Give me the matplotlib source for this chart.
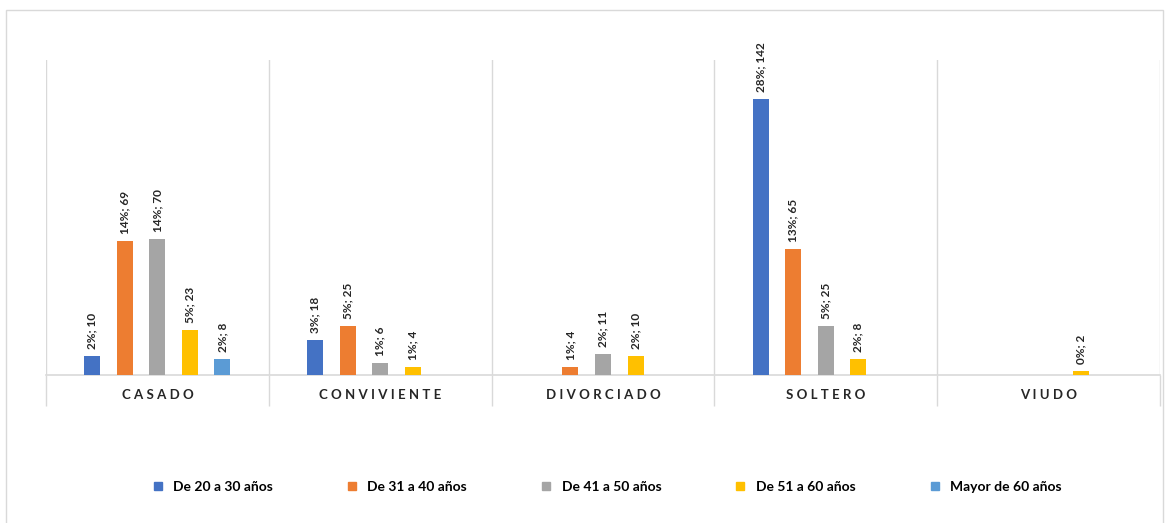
import numpy as np
import matplotlib
matplotlib.use('Agg')
import matplotlib.pyplot as plt
from matplotlib.lines import Line2D

plt.rcParams['font.family'] = ['Lato', 'DejaVu Sans']

categories = ['CASADO', 'CONVIVIENTE', 'DIVORCIADO', 'SOLTERO', 'VIUDO']
series = ['De 20 a 30 años', 'De 31 a 40 años', 'De 41 a 50 años',
          'De 51 a 60 años', 'Mayor de 60 años']
colors = ['#4472C4', '#ED7D31', '#A5A5A5', '#FFC000', '#5B9BD5']

# counts per series, one value per category
counts = [
    [10, 18, 0, 142, 0],
    [69, 25, 4, 65, 0],
    [70, 6, 11, 25, 0],
    [23, 4, 10, 8, 2],
    [8, 0, 0, 0, 0],
]
pcts = [
    ['2%', '3%', '', '28%', ''],
    ['14%', '5%', '1%', '13%', ''],
    ['14%', '1%', '2%', '5%', ''],
    ['5%', '1%', '2%', '2%', '0%'],
    ['2%', '', '', '', ''],
]

fig = plt.figure(figsize=(11.68, 5.23), dpi=100)
W, H = 1168, 523
ax = fig.add_axes([46 / W, 1 - 375 / H, (1160 - 46) / W, (375 - 60) / H])

x = np.arange(len(categories))
step = 0.146
bw = 0.072
for i, (name, vals) in enumerate(zip(series, counts)):
    pos = x + (i - 2) * step
    bars = ax.bar(pos, vals, width=bw, color=colors[i], label=name, zorder=3)
    for b, v, p in zip(bars, vals, pcts[i]):
        if v == 0:
            continue
        ax.annotate(f'{p}; {v}', (b.get_x() + b.get_width() / 2, v),
                    xytext=(0, 5), textcoords='offset points',
                    rotation=90, ha='center', va='bottom',
                    fontsize=8.5, fontweight='bold', color='#262626')

ax.set_xlim(-0.5, len(categories) - 0.5)
ax.set_ylim(0, 162)
ax.set_yticks([])
for s in ['top', 'right', 'left']:
    ax.spines[s].set_visible(False)
ax.spines['bottom'].set_color('#D9D9D9')
ax.spines['bottom'].set_linewidth(1.2)

# category separators
bounds = np.arange(len(categories) + 1) - 0.5
for b in bounds:
    ax.axvline(b, color='#D9D9D9', lw=1, zorder=1)
ax.set_xticks(bounds, minor=True)
ax.tick_params(axis='x', which='minor', length=22, color='#D9D9D9', width=1)
ax.set_xticks(x)
ax.set_xticklabels([' '.join(c) for c in categories], fontsize=9.5,
                   fontweight='bold', color='#262626')
ax.tick_params(axis='x', which='major', length=0, pad=10)

handles = [Line2D([], [], marker='s', ls='', color=c, markersize=6) for c in colors]
fig.legend(handles, series, loc='center', ncol=5,
           bbox_to_anchor=(0.516, 1 - 487 / H), frameon=False,
           handletextpad=0.1, columnspacing=4.7,
           prop={'weight': 'bold', 'size': 10})

# outer chart border
fig.add_artist(plt.Rectangle((6 / W, -0.01), (1163 - 6) / W, 1 - 10 / H + 0.01,
                             transform=fig.transFigure, fill=False,
                             edgecolor='#D9D9D9', lw=1))

fig.savefig('out.png', dpi=100)
